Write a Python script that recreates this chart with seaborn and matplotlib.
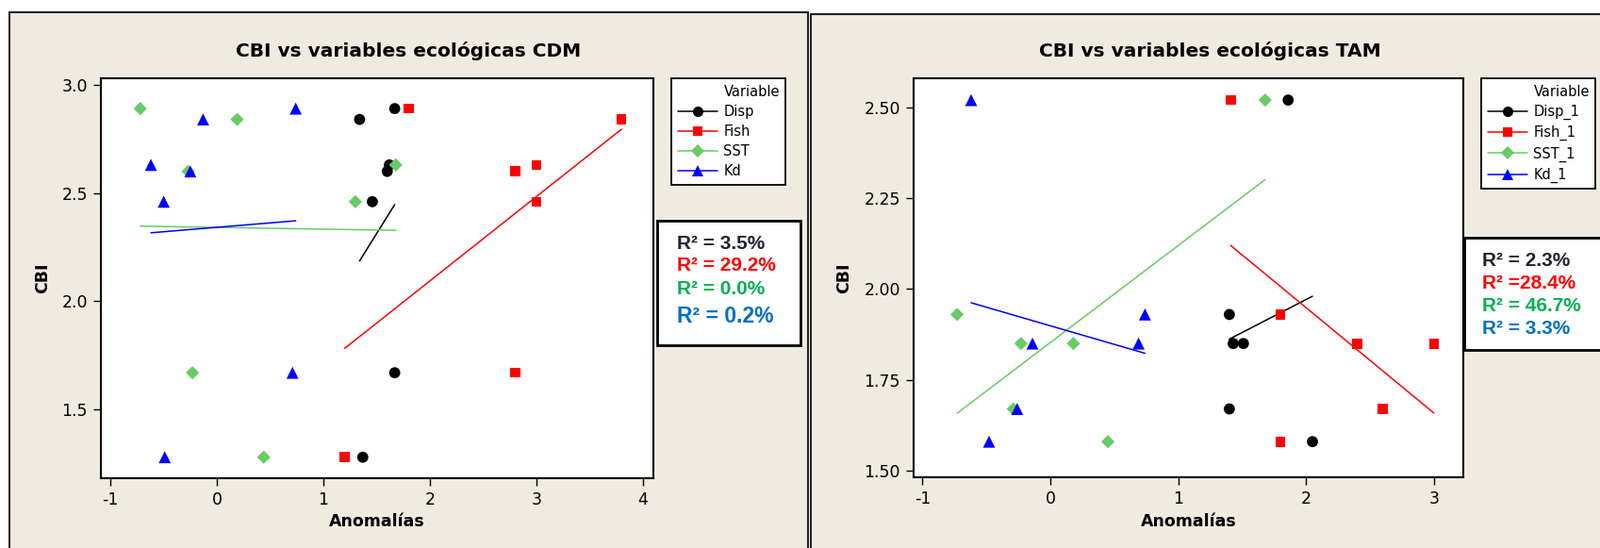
import matplotlib
matplotlib.use("Agg")
import matplotlib.pyplot as plt
from matplotlib.patches import Rectangle
from matplotlib.lines import Line2D
from matplotlib.ticker import FormatStrFormatter
import seaborn as sns
import pandas as pd

# ---------------- data ----------------
variables_cdm = ["Disp", "Fish", "SST", "Kd"]
cbi_cdm = [2.89, 2.84, 2.63, 2.60, 2.46, 1.67, 1.28]
disp_cdm = [1.67, 1.34, 1.62, 1.60, 1.46, 1.67, 1.37]
fish_cdm = [1.80, 3.80, 3.00, 2.80, 3.00, 2.80, 1.20]
sst_cdm = [-0.72, 0.19, 1.68, -0.27, 1.30, -0.23, 0.44]
kd_cdm = [0.74, -0.13, -0.62, -0.25, -0.50, 0.71, -0.49]
r2_cdm = ["R² = 3.5%", "R² = 29.2%", "R² = 0.0%", "R² = 0.2%"]

variables_tam = ["Disp_1", "Fish_1", "SST_1", "Kd_1"]
cbi_tam = [2.52, 1.93, 1.85, 1.85, 1.67, 1.58]
disp_tam = [1.86, 1.40, 1.43, 1.51, 1.40, 2.05]
fish_tam = [1.41, 1.80, 2.40, 3.00, 2.60, 1.80]
sst_tam = [1.68, -0.73, -0.23, 0.18, -0.29, 0.45]
kd_tam = [-0.62, 0.74, -0.14, 0.69, -0.26, -0.48]
r2_tam = ["R² = 2.3%", "R² =28.4%", "R² = 46.7%", "R² = 3.3%"]

x_ticks_cdm = [-1, 0, 1, 2, 3, 4]
y_ticks_cdm = [1.5, 2.0, 2.5, 3.0]
x_ticks_tam = [-1, 0, 1, 2, 3]
y_ticks_tam = [1.50, 1.75, 2.00, 2.25, 2.50]


def long_df(names, cbi, cols):
    rows = []
    for name, xs in zip(names, cols):
        for xv, yv in zip(xs, cbi):
            rows.append({"Variable": name, "Anomalias": xv, "CBI": yv})
    return pd.DataFrame(rows)


df_cdm = long_df(variables_cdm, cbi_cdm, [disp_cdm, fish_cdm, sst_cdm, kd_cdm])
df_tam = long_df(variables_tam, cbi_tam, [disp_tam, fish_tam, sst_tam, kd_tam])

# ---------------- style ----------------
sns.set_style("ticks")
plt.rcParams["font.family"] = ["DejaVu Sans"]
plt.rcParams["text.color"] = "black"
plt.rcParams["axes.labelcolor"] = "black"
plt.rcParams["xtick.color"] = "black"
plt.rcParams["ytick.color"] = "black"
plt.rcParams["axes.unicode_minus"] = False

colors = ["#000000", "#FF0000", "#66CC66", "#0000FF"]
markers = ["o", "s", "D", "^"]
msizes = [72, 58, 52, 85]
leg_ms = [8, 7.5, 7, 9]
r2_colors = ["#1F2433", "#FF0000", "#00B050", "#0070C0"]
BG = "#EFEBE1"

W, H = 1697, 581
fig = plt.figure(figsize=(W / 100, H / 100), dpi=100)
fig.patch.set_facecolor("white")


def fx(x):
    return x / W


def fy(y):
    return 1 - y / H


def frame_rect(x0, y0, x1, y1, face, lw):
    r = Rectangle((fx(x0), fy(y1)), fx(x1) - fx(x0), fy(y0) - fy(y1),
                  transform=fig.transFigure, facecolor=face, edgecolor="#222222",
                  linewidth=lw, zorder=-10)
    fig.patches.append(r)


# panel frames
frame_rect(10, 13, 857, 600, BG, 1.5)
frame_rect(860, 15, 1710, 600, BG, 1.5)


def panel(df, names, axbox, xlim, ylim, xticks, yticks, yfmt, title, title_x,
          leg_xy, r2_box, r2_texts, r2_x, r2_ys, r2_sizes, ylabel_x):
    x0, y0, x1, y1 = axbox
    ax = fig.add_axes([fx(x0), fy(y1), fx(x1) - fx(x0), fy(y0) - fy(y1)])
    ax.set_zorder(2)
    ax.set_facecolor("white")
    for name, c in zip(names, colors):
        sub = df[df["Variable"] == name]
        sns.regplot(data=sub, x="Anomalias", y="CBI", ax=ax, scatter=False,
                    ci=None, truncate=True, line_kws=dict(color=c, lw=1.1))
    for name, c, m, s in zip(names, colors, markers, msizes):
        sub = df[df["Variable"] == name]
        sns.scatterplot(data=sub, x="Anomalias", y="CBI", ax=ax, color=c,
                        marker=m, s=s, edgecolor="none", linewidth=0,
                        legend=False, zorder=3)
    ax.set_xlim(*xlim)
    ax.set_ylim(*ylim)
    ax.set_xticks(xticks)
    ax.set_yticks(yticks)
    ax.yaxis.set_major_formatter(FormatStrFormatter(yfmt))
    ax.tick_params(direction="out", length=6, width=1, labelsize=12.5,
                   colors="black", pad=4)
    for sp in ax.spines.values():
        sp.set_visible(True)
        sp.set_linewidth(1.5)
        sp.set_color("black")
    ax.set_xlabel("")
    ax.set_ylabel("")
    # axis labels
    fig.text(fx((x0 + x1) / 2), fy(553), "Anomalías", ha="center", va="center",
             fontsize=12.5, fontweight="bold", zorder=3)
    fig.text(fx(ylabel_x), fy((y0 + y1) / 2), "CBI", ha="center", va="center",
             rotation=90, fontsize=12.5, fontweight="bold", zorder=3)
    fig.text(fx(title_x), fy(54), title, ha="center", va="center",
             fontsize=14.5, fontweight="bold", zorder=3)
    # legend
    handles = [Line2D([], [], linestyle="none", marker=None)]
    labels = ["Variable"]
    for name, c, m, ms in zip(names, colors, markers, leg_ms):
        handles.append(Line2D([], [], color=c, lw=1.1, marker=m, markersize=ms,
                              markeredgewidth=0))
        labels.append(name)
    leg = fig.legend(handles, labels, loc="upper left",
                     bbox_to_anchor=(fx(leg_xy[0]), fy(leg_xy[1])),
                     bbox_transform=fig.transFigure, fontsize=10.5,
                     frameon=True, fancybox=False, framealpha=1,
                     edgecolor="black", handlelength=2.9, handletextpad=0.45,
                     labelspacing=0.42, borderpad=0.45, borderaxespad=0)
    leg.get_frame().set_linewidth(1.3)
    leg.set_zorder(4)
    # R2 box
    bx0, by0, bx1, by1 = r2_box
    r = Rectangle((fx(bx0), fy(by1)), fx(bx1) - fx(bx0), fy(by0) - fy(by1),
                  transform=fig.transFigure, facecolor="white",
                  edgecolor="black", linewidth=2, zorder=5)
    fig.patches.append(r)
    for t, c, yy, fs in zip(r2_texts, r2_colors, r2_ys, r2_sizes):
        fig.text(fx(r2_x), fy(yy), t, color=c, ha="left", va="center",
                 fontsize=fs, fontweight="bold", family="Liberation Sans",
                 zorder=6)
    return ax


panel(df_cdm, variables_cdm, (107, 83, 693, 507), (-1.09, 4.1), (1.183, 3.03),
      x_ticks_cdm, y_ticks_cdm, "%.1f", "CBI vs variables ecológicas CDM", 433,
      (712, 83), (697, 234, 849, 366), r2_cdm, 718, [258, 282, 307, 335],
      [15, 15, 15, 16.5], 45)

panel(df_tam, variables_tam, (969, 83, 1552, 506), (-1.07, 3.23), (1.482, 2.58),
      x_ticks_tam, y_ticks_tam, "%.2f", "CBI vs variables ecológicas TAM", 1283,
      (1571, 83), (1553, 252, 1705, 371), r2_tam, 1572, [276, 300, 325, 349],
      [15, 15, 15, 15], 895)

fig.savefig("out.png", dpi=100, facecolor=fig.get_facecolor())
